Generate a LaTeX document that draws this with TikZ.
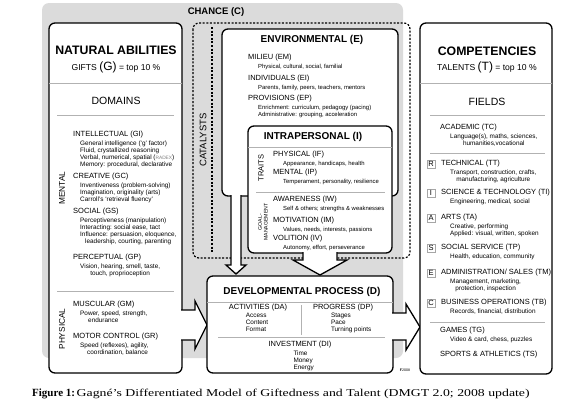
\documentclass[tikz,border=0pt]{standalone}
\usepackage{fontspec}
\setmainfont{Liberation Serif}
\setsansfont{Liberation Sans}
\newfontfamily\capfont[FakeStretch=1.24]{Liberation Serif}
\usetikzlibrary{positioning}

\begin{document}
\begin{tikzpicture}[
    x=1pt, y=-1pt,
    box/.style={draw, line width=1.3pt, rounded corners=6pt, fill=white},
    bigarrow/.style={draw, line width=1.3pt, fill=white, line join=miter},
    catalyst/.style={draw, line width=1.2pt, dash pattern=on 2pt off 1.6pt},
    sep/.style={draw=gray!60, line width=0.7pt},
    mainttl/.style={font=\fontsize{12.3}{13}\selectfont\sffamily\bfseries, inner sep=0pt},
    boxttl/.style={font=\fontsize{10}{11}\selectfont\sffamily\bfseries, inner sep=0pt},
    topten/.style={font=\fontsize{8.6}{9}\selectfont\sffamily, inner sep=0pt},
    area/.style={font=\fontsize{10.5}{11}\selectfont\sffamily, inner sep=0pt},
    head/.style={font=\fontsize{7.5}{8}\selectfont\sffamily, inner sep=0pt, anchor=west},
    detail/.style={font=\fontsize{6.4}{7}\selectfont\sffamily, inner sep=0pt, align=left},
    smalldetail/.style={detail, font=\fontsize{5.9}{7}\selectfont\sffamily},
    sidelbl/.style={font=\fontsize{8.3}{9}\selectfont\sffamily, inner sep=0pt, rotate=90},
    riasec/.style={draw=gray!70, line width=0.5pt, font=\fontsize{7.5}{8}\selectfont\sffamily,
                   minimum size=8pt, inner sep=0pt},
]
\useasboundingbox (0,0) rectangle (569,407);

% chance and catalysts
\fill[gray!28, rounded corners=7pt] (42,3) rectangle (403,358);
\node[boxttl, font=\fontsize{9.5}{10}\selectfont\sffamily\bfseries] (chance) at (216,12) {CHANCE (C)};
\draw[catalyst, rounded corners=6pt] (193,23) rectangle (410,258);
\draw[catalyst] (212,27) -- (212,253);
\node[sidelbl, font=\fontsize{9.5}{10}\selectfont\sffamily] (catalysts) at (203,140) {CATALYSTS};

% environmental
\draw[box] (222,29) rectangle (398,196);
\filldraw[bigarrow] (231,195) -- (231,265) -- (226,265) -- (236,274) -- (246,265) -- (241,265) -- (241,195);
\node[boxttl] (envTitle) at (312,40) {ENVIRONMENTAL (E)};
\node[head] (em) at (248,58) {MILIEU (EM)};
\node[smalldetail, below right=2pt and 10pt of em.south west] (emD) {Physical, cultural, social, familial};
\node[head] (ei) at (248,79) {INDIVIDUALS (EI)};
\node[smalldetail, below right=2pt and 10pt of ei.south west] (eiD) {Parents, family, peers, teachers, mentors};
\node[head] (ep) at (248,99) {PROVISIONS (EP)};
\node[smalldetail, below right=2pt and 10pt of ep.south west] (epD) {Enrichment: curriculum, pedagogy (pacing)\\Administrative: grouping, acceleration};

% intrapersonal
\draw[box] (248,126) rectangle (392,253);
\filldraw[bigarrow] (303,252) -- (303,260) -- (293,260) -- (320,275) -- (347,260) -- (337,260) -- (337,252);
\node[boxttl] (intraTitle) at (313,137) {INTRAPERSONAL (I)};
\draw[sep] (248,147) -- (392,147);
\node[sidelbl, font=\fontsize{7.5}{8}\selectfont\sffamily] (traits) at (261,168) {TRAITS};
\node[head] (iF) at (273,155) {PHYSICAL (IF)};
\node[smalldetail, below right=2pt and 10pt of iF.south west] (iFD) {Appearance, handicaps, health};
\node[head] (iP) at (273,173) {MENTAL (IP)};
\node[smalldetail, below right=2pt and 10pt of iP.south west] (iPD) {Temperament, personality, resilience};
\draw[sep] (256,192) -- (385,192);
\node[sidelbl, font=\fontsize{5.2}{5.6}\selectfont\sffamily, align=center] (goal) at (263,222) {GOAL-\\MANAGEMENT};
\node[head] (iW) at (273,200) {AWARENESS (IW)};
\node[smalldetail, below right=2pt and 10pt of iW.south west] (iWD) {Self \& others; strengths \& weaknesses};
\node[head] (iM) at (273,221) {MOTIVATION (IM)};
\node[smalldetail, below right=2pt and 10pt of iM.south west] (iMD) {Values, needs, interests, passions};
\node[head] (iV) at (273,239) {VOLITION (IV)};
\node[smalldetail, below right=2pt and 10pt of iV.south west] (iVD) {Autonomy, effort, perseverance};

% natural abilities
\draw[box] (49,23) rectangle (182,373);
\filldraw[bigarrow] (181,310) -- (195,310) -- (195,301) -- (207,325) -- (195,349) -- (195,340) -- (181,340);
\node[mainttl] (natTitle) at (116,50) {NATURAL ABILITIES};
\node[topten] (gifts) at (116,67) {GIFTS {\fontsize{12}{12}\selectfont(G)} = top 10 \%};
\draw[sep] (49,83) -- (182,83);
\node[area] (domains) at (116,101) {DOMAINS};
\draw[sep] (57,115) -- (174,115);
\node[sidelbl] (mental) at (62,188) {MENTAL};
\node[head] (gi) at (73,135) {INTELLECTUAL (GI)};
\node[detail, below right=1.5pt and 7pt of gi.south west] (giD) {General intelligence (‘g’ factor)\\Fluid, crystallized reasoning\\Verbal, numerical, spatial ({\color{gray}\fontsize{4.8}{5}\selectfont RADEX})\\Memory: procedural, declarative};
\node[head] (gc) at (73,177) {CREATIVE (GC)};
\node[detail, below right=1.5pt and 7pt of gc.south west] (gcD) {Inventiveness (problem-solving)\\Imagination, originality (arts)\\Carroll’s ‘retrieval fluency’};
\node[head] (gs) at (73,212) {SOCIAL (GS)};
\node[detail, below right=1.5pt and 7pt of gs.south west] (gsD) {Perceptiveness (manipulation)\\Interacting: social ease, tact\\Influence: persuasion, eloquence,\\\hspace*{5pt}leadership, courting, parenting};
\node[head] (gp) at (73,258) {PERCEPTUAL (GP)};
\node[detail, align=center, below right=1.5pt and 7pt of gp.south west] (gpD) {Vision, hearing, smell, taste,\\touch, proprioception};
\draw[sep] (57,291) -- (174,291);
\node[sidelbl] (physical) at (62,329) {PHYSICAL};
\node[head] (gm) at (73,305) {MUSCULAR (GM)};
\node[detail, below right=1.5pt and 7pt of gm.south west] (gmD) {Power, speed, strength,\\\hspace*{8pt}endurance};
\node[head] (gr) at (73,337) {MOTOR CONTROL (GR)};
\node[detail, below right=1.5pt and 7pt of gr.south west] (grD) {Speed (reflexes), agility,\\\hspace*{7pt}coordination, balance};

% developmental process
\draw[box] (207,276) rectangle (393,373);
\filldraw[bigarrow] (392,313) -- (406,313) -- (406,304) -- (420,327) -- (406,350) -- (406,340) -- (392,340);
\node[boxttl] (devTitle) at (302,292) {DEVELOPMENTAL PROCESS (D)};
\draw[sep] (207,302) -- (393,302);
\node[head, anchor=center] (da) at (258,308) {ACTIVITIES (DA)};
\node[detail, below right=1.5pt and 17pt of da.south west] (daD) {Access\\Content\\Format};
\draw[sep] (301,305) -- (301,335);
\node[head, anchor=center] (dp) at (343,308) {PROGRESS (DP)};
\node[detail, below right=1.5pt and 18pt of dp.south west] (dpD) {Stages\\Pace\\Turning points};
\draw[sep] (218,337) -- (385,337);
\node[head, anchor=center] (di) at (300,345) {INVESTMENT (DI)};
\node[detail, below right=1.5pt and 25pt of di.south west] (diD) {Time\\Money\\Energy};
\node[font=\fontsize{3.6}{4}\selectfont\sffamily, inner sep=0pt] (logo) at (405,370) {\textbf{F}2008};

% competencies
\draw[box] (420,23) rectangle (552,374);
\node[mainttl] (compTitle) at (487,51) {COMPETENCIES};
\node[topten] (talents) at (487,67) {TALENTS {\fontsize{12}{12}\selectfont(T)} = top 10 \%};
\draw[sep] (420,83) -- (552,83);
\node[area] (fields) at (487,102) {FIELDS};
\draw[sep] (430,115) -- (545,115);
\node[head] (tc) at (440,128) {ACADEMIC (TC)};
\node[detail, align=center, below right=1.5pt and 10pt of tc.south west] (tcD) {Language(s), maths, sciences,\\humanities,vocational};
\draw[sep] (430,153) -- (545,153);
\foreach \l/\y in {R/164, I/193, A/218, S/248, E/273, C/303}
    \node[riasec] (box\l) at (431,\y) {\l};
\node[head] (tt) at (441,164) {TECHNICAL (TT)};
\node[detail, align=center, below right=1.5pt and 9pt of tt.south west] (ttD) {Transport, construction, crafts,\\manufacturing, agriculture};
\node[head] (ti) at (441,193) {SCIENCE \& TECHNOLOGY (TI)};
\node[detail, below right=1.5pt and 9pt of ti.south west] (tiD) {Engineering, medical, social};
\node[head] (ta) at (441,218) {ARTS (TA)};
\node[detail, below right=1.5pt and 9pt of ta.south west] (taD) {Creative, performing\\Applied: visual, written, spoken};
\node[head] (tp) at (441,248) {SOCIAL SERVICE (TP)};
\node[detail, below right=1.5pt and 9pt of tp.south west] (tpD) {Health, education, community};
\node[head] (tm) at (441,273) {ADMINISTRATION/ SALES (TM)};
\node[detail, align=center, below right=1.5pt and 9pt of tm.south west] (tmD) {Management, marketing,\\protection, inspection};
\node[head] (tb) at (441,303) {BUSINESS OPERATIONS (TB)};
\node[detail, below right=1.5pt and 9pt of tb.south west] (tbD) {Records, financial, distribution};
\draw[sep] (430,322) -- (545,322);
\node[head] (tg) at (440,331) {GAMES (TG)};
\node[detail, below right=1.5pt and 10pt of tg.south west] (tgD) {Video \& card, chess, puzzles};
\node[head] (ts) at (440,355) {SPORTS \& ATHLETICS (TS)};

% caption
\node[anchor=west, inner sep=0pt] (caption) at (32,394) {{\fontsize{11}{12}\selectfont\bfseries Figure 1:}\,\scalebox{1.06}[1]{\capfont\fontsize{10.5}{12}\selectfont Gagné’s Differentiated Model of Giftedness and Talent (DMGT 2.0; 2008 update)}};

\end{tikzpicture}
\end{document}
